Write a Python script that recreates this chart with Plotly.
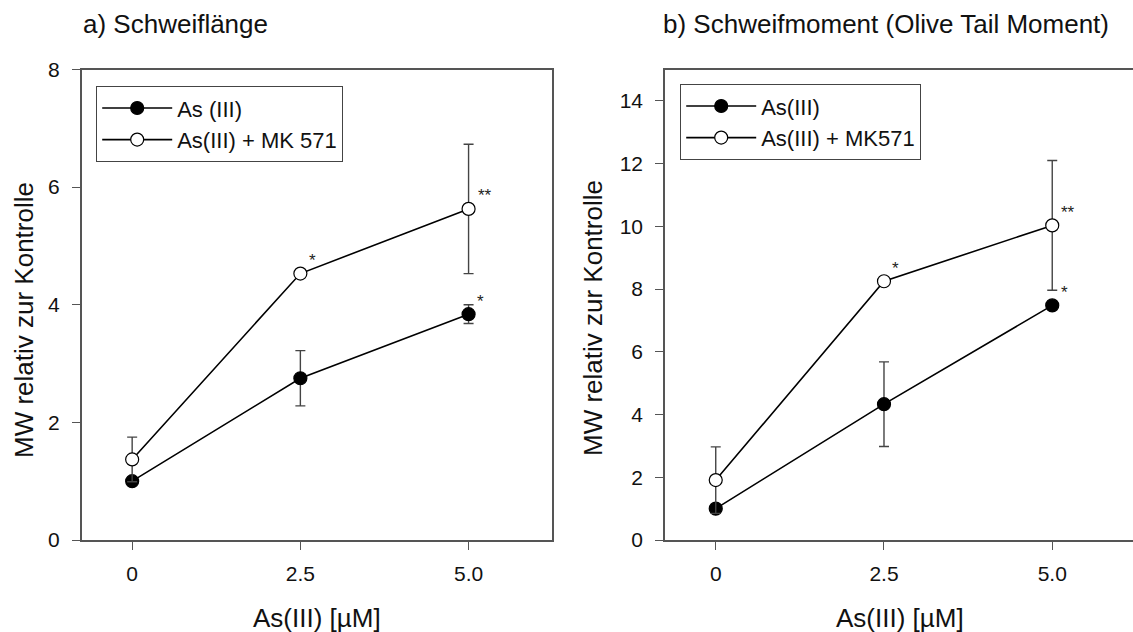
import plotly.graph_objects as go

# ---- data ----
x_conc = [0, 2.5, 5.0]
tick_vals = [0, 2.5, 5.0]
tick_text = ["0", "2.5", "5.0"]

# a) Schweiflänge
a_as = [1.0, 2.75, 3.84]
a_as_err = [0.0, 0.47, 0.16]
a_mk = [1.37, 4.53, 5.63]
a_mk_err = [0.38, 0.0, 1.1]

# b) Schweifmoment
b_as = [1.0, 4.33, 7.48]
b_as_err = [0.0, 1.35, 0.0]
b_mk = [1.91, 8.25, 10.03]
b_mk_err = [1.06, 0.0, 2.07]

# significance marks: (x, y, text)
a_sig = [(2.5, 4.53, "*"), (5.0, 5.63, "**"), (5.0, 3.84, "*")]
b_sig = [(2.5, 8.25, "*"), (5.0, 10.03, "**"), (5.0, 7.48, "*")]

names_a = ["As (III)", "As(III) + MK 571"]
names_b = ["As(III)", "As(III) + MK571"]

W, H = 1133, 632
FONT = "Liberation Sans, Arial, sans-serif"

def px(xp):
    return xp / W

def py(yp):
    return 1 - yp / H

fig = go.Figure()

def add_series(y, err, name, filled, xa, ya, legend):
    fig.add_trace(go.Scatter(
        x=x_conc, y=y, name=name, mode="lines+markers",
        xaxis=xa, yaxis=ya, legend=legend,
        line=dict(color="black", width=1.6),
        marker=dict(symbol="circle", size=13,
                    color="black" if filled else "white",
                    line=dict(color="black", width=1.2)),
        error_y=dict(type="data", array=err, visible=True,
                     color="#444444", thickness=1.4, width=5),
    ))

add_series(a_as, a_as_err, names_a[0], True, "x", "y", "legend")
add_series(a_mk, a_mk_err, names_a[1], False, "x", "y", "legend")
add_series(b_as, b_as_err, names_b[0], True, "x2", "y2", "legend2")
add_series(b_mk, b_mk_err, names_b[1], False, "x2", "y2", "legend2")

annos = []
for (xv, yv, t) in a_sig:
    annos.append(dict(x=xv, y=yv, xref="x", yref="y", text=t, showarrow=False,
                      xshift=16 if t == "**" else 12, yshift=13,
                      font=dict(family=FONT, size=17, color="#222")))
for (xv, yv, t) in b_sig:
    annos.append(dict(x=xv, y=yv, xref="x2", yref="y2", text=t, showarrow=False,
                      xshift=16 if t == "**" else 12, yshift=13,
                      font=dict(family=FONT, size=17, color="#222")))

title_font = dict(family=FONT, size=26, color="#111")
annos += [
    dict(x=px(81), y=py(24), xref="paper", yref="paper", text="a) Schweiflänge",
         showarrow=False, xanchor="left", yanchor="middle", font=title_font),
    dict(x=px(661), y=py(24), xref="paper", yref="paper",
         text="b) Schweifmoment (Olive Tail Moment)",
         showarrow=False, xanchor="left", yanchor="middle", font=title_font),
    dict(x=px(24), y=py(320), xref="paper", yref="paper", text="MW relativ zur Kontrolle",
         showarrow=False, textangle=-90, xanchor="center", yanchor="middle", font=title_font),
    dict(x=px(593), y=py(318), xref="paper", yref="paper", text="MW relativ zur Kontrolle",
         showarrow=False, textangle=-90, xanchor="center", yanchor="middle", font=title_font),
    dict(x=px(317), y=py(618), xref="paper", yref="paper", text="As(III) [µM]",
         showarrow=False, xanchor="center", yanchor="middle", font=title_font),
    dict(x=px(900), y=py(618), xref="paper", yref="paper", text="As(III) [µM]",
         showarrow=False, xanchor="center", yanchor="middle", font=title_font),
]

axis_common = dict(showgrid=False, zeroline=False, showline=True, linecolor="#555",
                   linewidth=1.5, mirror=True, ticks="outside", ticklen=8,
                   tickcolor="#555", tickwidth=1.2,
                   tickfont=dict(family=FONT, size=21, color="#111"))

ydom = [py(540), py(69.5)]
leg_common = dict(xanchor="left", yanchor="top",
                  bordercolor="#444", borderwidth=1.2, bgcolor="white",
                  font=dict(family=FONT, size=22, color="#111"),
                  itemwidth=70, tracegroupgap=0)
fig.update_layout(
    width=W, height=H,
    margin=dict(l=0, r=0, t=0, b=0),
    paper_bgcolor="white", plot_bgcolor="white",
    showlegend=True,
    xaxis=dict(axis_common, domain=[px(81.7), px(552)], range=[-0.75, 6.24],
               tickvals=tick_vals, ticktext=tick_text, anchor="y", automargin=False,
               ticklabelstandoff=6),
    yaxis=dict(axis_common, domain=ydom, range=[0, 8], tickvals=[0, 2, 4, 6, 8],
               anchor="x", automargin=False, ticklabelstandoff=8),
    xaxis2=dict(axis_common, domain=[px(665), 1.0], range=[-0.754, 6.20],
                tickvals=tick_vals, ticktext=tick_text, anchor="y2", automargin=False,
                ticklabelstandoff=6),
    yaxis2=dict(axis_common, domain=ydom, range=[0, 15],
                tickvals=[0, 2, 4, 6, 8, 10, 12, 14], anchor="x2", automargin=False,
                ticklabelstandoff=8),
    legend=dict(leg_common, x=px(96), y=py(86)),
    legend2=dict(leg_common, x=px(680), y=py(84)),
    annotations=annos,
)

fig.write_html("out.html")
